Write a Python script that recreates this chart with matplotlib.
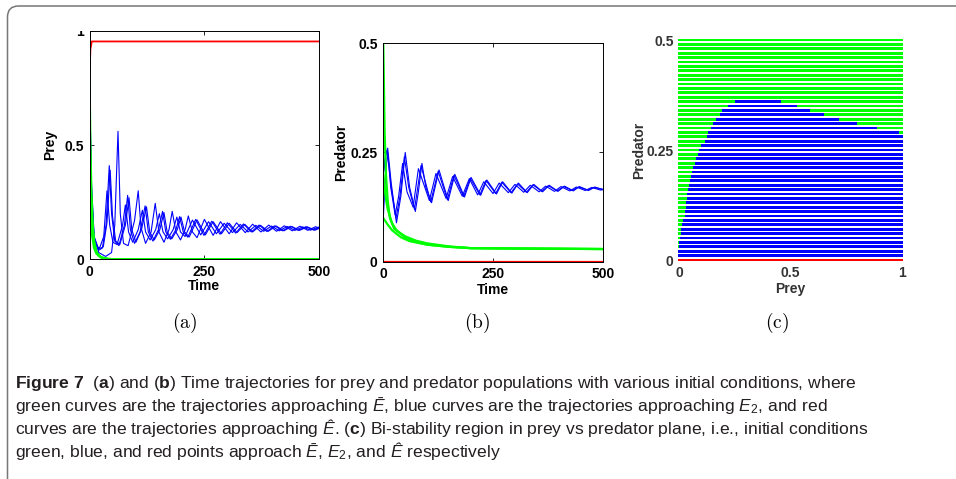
import numpy as np
import matplotlib
matplotlib.use("Agg")
import matplotlib.pyplot as plt
from matplotlib.patches import FancyBboxPatch, Rectangle

# ---- time series (t, value) read per trajectory ----
prey_blue1 = np.array([(0, 0.80), (4, 0.35), (10, 0.10), (20, 0.03), (35, 0.013), (48, 0.03), (55, 0.15),
                       (62, 0.56), (67, 0.20), (74, 0.07), (84, 0.06), (98, 0.17), (106, 0.30), (112, 0.14),
                       (122, 0.07), (134, 0.12), (143, 0.245), (151, 0.12), (162, 0.075), (173, 0.13),
                       (180, 0.21), (188, 0.12), (198, 0.085), (208, 0.13), (215, 0.19), (224, 0.12),
                       (234, 0.095), (250, 0.175), (269, 0.105), (285, 0.165), (304, 0.112), (320, 0.16),
                       (339, 0.117), (355, 0.154), (373, 0.12), (390, 0.15), (407, 0.123), (424, 0.147),
                       (441, 0.125), (458, 0.145), (475, 0.127), (492, 0.143), (500, 0.136)])
prey_blue2 = np.array([(0, 0.75), (4, 0.30), (10, 0.09), (20, 0.04), (28, 0.05), (36, 0.15), (43, 0.41),
                       (48, 0.20), (55, 0.08), (64, 0.06), (76, 0.15), (83, 0.28), (89, 0.13), (98, 0.07),
                       (110, 0.12), (121, 0.234), (128, 0.12), (138, 0.08), (150, 0.13), (159, 0.21),
                       (166, 0.12), (176, 0.088), (188, 0.13), (196, 0.187), (204, 0.12), (214, 0.097),
                       (231, 0.175), (249, 0.105), (266, 0.167), (284, 0.11), (300, 0.16), (318, 0.115),
                       (335, 0.155), (352, 0.12), (369, 0.15), (386, 0.122), (403, 0.147), (420, 0.125),
                       (437, 0.145), (454, 0.127), (471, 0.143), (488, 0.128), (500, 0.14)])
prey_blue3 = np.array([(0, 0.40), (5, 0.15), (12, 0.06), (22, 0.05), (31, 0.10), (38, 0.30), (44, 0.15),
                       (51, 0.075), (60, 0.065), (72, 0.15), (78, 0.238), (85, 0.12), (94, 0.075),
                       (106, 0.13), (115, 0.215), (122, 0.12), (132, 0.085), (144, 0.13), (152, 0.20),
                       (160, 0.12), (170, 0.09), (182, 0.13), (190, 0.185), (198, 0.12), (208, 0.10),
                       (224, 0.172), (242, 0.107), (259, 0.165), (276, 0.112), (293, 0.158), (311, 0.117),
                       (328, 0.153), (345, 0.12), (362, 0.149), (379, 0.123), (396, 0.146), (413, 0.125),
                       (430, 0.144), (447, 0.127), (464, 0.142), (481, 0.128), (498, 0.141), (500, 0.14)])
prey_blue4 = np.array([(0, 0.80), (4, 0.32), (10, 0.10), (20, 0.045), (30, 0.055), (38, 0.16), (45, 0.39),
                       (50, 0.19), (57, 0.08), (66, 0.065), (78, 0.15), (86, 0.27), (92, 0.13), (101, 0.075),
                       (113, 0.13), (124, 0.23), (131, 0.12), (141, 0.085), (153, 0.13), (162, 0.205),
                       (169, 0.12), (179, 0.09), (191, 0.13), (199, 0.185), (207, 0.12), (217, 0.098),
                       (234, 0.173), (252, 0.107), (269, 0.165), (287, 0.112), (304, 0.158), (321, 0.117),
                       (338, 0.153), (355, 0.12), (372, 0.149), (389, 0.123), (406, 0.146), (423, 0.125),
                       (440, 0.144), (457, 0.127), (474, 0.142), (491, 0.128), (500, 0.136)])
prey_green1 = np.array([(0, 0.80), (2, 0.50), (4, 0.30), (7, 0.15), (10, 0.08), (15, 0.035), (20, 0.015),
                        (30, 0.005), (40, 0.002), (60, 0.0), (500, 0.0)])
prey_green2 = np.array([(0, 0.60), (3, 0.30), (6, 0.15), (10, 0.07), (15, 0.03), (25, 0.01), (40, 0.002),
                        (60, 0.0), (500, 0.0)])
prey_green3 = np.array([(0, 0.40), (3, 0.20), (6, 0.10), (10, 0.05), (15, 0.025), (25, 0.008), (40, 0.002),
                        (60, 0.0), (500, 0.0)])
prey_red = np.array([(0, 0.80), (2, 0.92), (5, 0.953), (500, 0.953)])

pred_blue1 = np.array([(0, 0.20), (5, 0.245), (10, 0.26), (18, 0.18), (30, 0.089), (40, 0.15), (50, 0.25),
                       (60, 0.17), (73, 0.115), (80, 0.16), (88, 0.225), (97, 0.17), (110, 0.135), (127, 0.21),
                       (148, 0.14), (163, 0.20), (185, 0.148), (200, 0.193), (222, 0.152), (236, 0.187),
                       (258, 0.155), (272, 0.183), (293, 0.157), (308, 0.18), (328, 0.158), (343, 0.177),
                       (363, 0.16), (378, 0.175), (398, 0.161), (413, 0.173), (433, 0.162), (447, 0.172),
                       (468, 0.163), (482, 0.171), (500, 0.165)])
pred_blue2 = np.array([(0, 0.10), (5, 0.20), (10, 0.25), (17, 0.17), (27, 0.107), (35, 0.15), (44, 0.225),
                       (54, 0.16), (68, 0.125), (80, 0.213), (105, 0.14), (120, 0.202), (143, 0.145),
                       (158, 0.195), (180, 0.15), (196, 0.19), (215, 0.153), (229, 0.183), (250, 0.156),
                       (264, 0.18), (285, 0.158), (300, 0.177), (320, 0.159), (335, 0.175), (355, 0.16),
                       (370, 0.173), (390, 0.161), (405, 0.172), (425, 0.162), (440, 0.171), (460, 0.163),
                       (475, 0.17), (495, 0.164), (500, 0.165)])
pred_blue3 = np.array([(0, 0.20), (5, 0.24), (9, 0.255), (18, 0.17), (29, 0.10), (38, 0.15), (48, 0.24),
                       (58, 0.17), (71, 0.12), (86, 0.22), (108, 0.137), (125, 0.207), (146, 0.142),
                       (161, 0.198), (183, 0.149), (198, 0.191), (220, 0.153), (234, 0.186), (256, 0.156),
                       (270, 0.182), (291, 0.158), (306, 0.178), (326, 0.159), (341, 0.176), (361, 0.161),
                       (376, 0.174), (396, 0.162), (411, 0.172), (431, 0.163), (445, 0.171), (466, 0.164),
                       (480, 0.17), (500, 0.166)])
pred_green1 = np.array([(0, 0.50), (3, 0.30), (6, 0.20), (10, 0.14), (15, 0.10), (25, 0.075), (50, 0.058),
                        (75, 0.048), (100, 0.042), (150, 0.035), (200, 0.031), (300, 0.03), (500, 0.029)])
pred_green2 = np.array([(0, 0.20), (5, 0.15), (10, 0.12), (20, 0.088), (30, 0.072), (50, 0.055), (75, 0.045),
                        (100, 0.039), (150, 0.034), (200, 0.031), (500, 0.029)])
pred_green3 = np.array([(0, 0.10), (10, 0.085), (20, 0.072), (40, 0.056), (60, 0.047), (100, 0.039),
                        (150, 0.034), (200, 0.031), (500, 0.029)])
pred_red = np.array([(0, 0.0), (500, 0.0)])

# ---- bi-stability grid: rows of initial predator values ----
grid_pred = np.round(np.arange(0, 0.501, 0.01), 2)
grid_prey = np.linspace(0, 1, 201)
# blue span per row, predator = 0.01 .. 0.36
blue_left = [0.0, 0.0, 0.002, 0.003, 0.006, 0.013, 0.014, 0.018, 0.022, 0.026, 0.027, 0.032,
             0.035, 0.036, 0.040, 0.044, 0.048, 0.053, 0.058, 0.062, 0.066, 0.071, 0.077, 0.086,
             0.093, 0.104, 0.116, 0.126, 0.135, 0.146, 0.156, 0.168, 0.186, 0.198, 0.225, 0.255]
blue_right = [1.0] * 28 + [0.99, 0.89, 0.80, 0.72, 0.652, 0.592, 0.532, 0.463]

BLUE = "#0000ff"
GREEN = "#00ff00"
RED = "#ff0000"

cap_font = "Liberation Sans"

plt.rcParams["font.family"] = ["Liberation Sans", "DejaVu Sans"]
plt.rcParams["mathtext.fontset"] = "custom"
plt.rcParams["mathtext.rm"] = cap_font
plt.rcParams["mathtext.it"] = cap_font + ":italic"
plt.rcParams["mathtext.bf"] = cap_font + ":bold"

W, H = 956, 479
fig = plt.figure(figsize=(W / 100, H / 100), dpi=100)


def axes_px(left, top, right, bottom):
    return fig.add_axes([left / W, 1 - bottom / H, (right - left) / W, (bottom - top) / H])


def style(ax):
    ax.tick_params(direction="in", length=3, width=0.6, top=True, right=True, labelsize=10, pad=4)
    for lab in ax.get_xticklabels() + ax.get_yticklabels():
        lab.set_fontweight("bold")
    for s in ax.spines.values():
        s.set_linewidth(0.7)


# background layer in pixel coordinates: frame, sub-captions, caption
bg = fig.add_axes([0, 0, 1, 1], zorder=-5)
bg.set_xlim(0, W)
bg.set_ylim(H, 0)
bg.axis("off")
bg.add_patch(FancyBboxPatch((7.5, 6), 1000, 520, boxstyle="round,pad=0,rounding_size=11",
                            fc="none", ec="#777777", lw=1.1))

# (a) prey
ax1 = axes_px(89.5, 30.7, 319.3, 259.4)
for c in (prey_blue1, prey_blue2, prey_blue3, prey_blue4):
    ax1.plot(c[:, 0], c[:, 1], color=BLUE, lw=0.8)
for c in (prey_green1, prey_green2, prey_green3):
    ax1.plot(c[:, 0], c[:, 1], color=GREEN, lw=1.6)
ax1.plot(prey_red[:, 0], prey_red[:, 1], color=RED, lw=1.3)
ax1.set_xlim(0, 500)
ax1.set_ylim(0, 1)
ax1.set_xticks([0, 250, 500])
ax1.set_yticks([0, 0.5, 1])
ax1.set_yticklabels(["0", "0.5", "1"])
ax1.set_xlabel("Time", fontsize=10, fontweight="bold", labelpad=0)
ax1.set_ylabel("Prey", fontsize=10, fontweight="bold", labelpad=5)
style(ax1)

# (b) predator
ax2 = axes_px(383.3, 43.3, 602.7, 261.7)
for c in (pred_blue1, pred_blue2, pred_blue3):
    ax2.plot(c[:, 0], c[:, 1], color=BLUE, lw=0.8)
for c in (pred_green1, pred_green2, pred_green3):
    ax2.plot(c[:, 0], c[:, 1], color=GREEN, lw=1.6)
ax2.plot(pred_red[:, 0], pred_red[:, 1], color=RED, lw=1.6)
ax2.set_xlim(0, 500)
ax2.set_ylim(0, 0.5)
ax2.set_xticks([0, 250, 500])
ax2.set_yticks([0, 0.25, 0.5])
ax2.set_yticklabels(["0", "0.25", "0.5"])
ax2.set_xlabel("Time", fontsize=10, fontweight="bold", labelpad=1)
ax2.set_ylabel("Predator", fontsize=10, fontweight="bold", labelpad=2)
style(ax2)

# (c) bi-stability region
ax3 = axes_px(679.3, 40, 901.7, 260)
for i, yv in enumerate(grid_pred):
    if i == 0:
        cols = [RED] * len(grid_prey)
    elif i <= len(blue_left):
        lo, hi = blue_left[i - 1], blue_right[i - 1]
        cols = [BLUE if lo <= xv <= hi else GREEN for xv in grid_prey]
    else:
        cols = [GREEN] * len(grid_prey)
    ax3.scatter(grid_prey, np.full(len(grid_prey), yv), c=cols, s=4, marker="s", linewidths=0,
                clip_on=False)
ax3.set_xlim(0, 1)
ax3.set_ylim(0, 0.5)
ax3.set_xticks([0, 0.5, 1])
ax3.set_xticklabels(["0", "0.5", "1"])
ax3.set_yticks([0, 0.25, 0.5])
ax3.set_yticklabels(["0", "0.25", "0.5"])
ax3.set_xlabel("Prey", fontsize=10, fontweight="bold", labelpad=2, color="#333333")
ax3.set_ylabel("Predator", fontsize=10, fontweight="bold", labelpad=0, color="#333333")
ax3.tick_params(length=0, labelsize=10, pad=4, colors="#333333")
for lab in ax3.get_xticklabels() + ax3.get_yticklabels():
    lab.set_fontweight("bold")
for s in ax3.spines.values():
    s.set_visible(False)

# clip the top of panel (a)
top = fig.add_axes([0, 0, 1, 1], zorder=10)
top.set_xlim(0, W)
top.set_ylim(H, 0)
top.axis("off")
top.patch.set_alpha(0)
top.add_patch(Rectangle((40, 8), 48, 22.5, fc="white", ec="none"))

for x, s in ((185, "a"), (477, "b"), (777, "c")):
    bg.text(x, 323, r"$\mathrm{(%s)}$" % s, fontsize=14, ha="center", va="center",
            math_fontfamily="cm")

E_BAR = r"$\mathit{Ē}$"
E_HAT = r"$\mathit{Ê}$"
E_TWO = r"$\mathit{E}_{2}$"
cap_lines = [
    r"$\mathbf{Figure\ 7}$  ($\mathbf{a}$) and ($\mathbf{b}$) Time trajectories for prey and predator "
    r"populations with various initial conditions, where",
    "green curves are the trajectories approaching " + E_BAR + ", blue curves are the trajectories "
    "approaching " + E_TWO + ", and red",
    "curves are the trajectories approaching " + E_HAT + r". ($\mathbf{c}$) Bi-stability region in prey vs "
    "predator plane, i.e., initial conditions",
    "green, blue, and red points approach " + E_BAR + ", " + E_TWO + ", and " + E_HAT + " respectively",
]
cap_texts = [bg.text(15, 388 + 23 * k, line, fontsize=12, family=cap_font, color="#231f20",
                     ha="left", va="baseline") for k, line in enumerate(cap_lines)]

# size the caption: first line runs to the right margin, lines must not touch
renderer = fig.canvas.get_renderer()
size = 12 * (943 - 15) / cap_texts[0].get_window_extent(renderer).width
while True:
    for t in cap_texts:
        t.set_fontsize(size)
    boxes = [t.get_window_extent(renderer) for t in cap_texts]
    if all(boxes[k].y0 > boxes[k + 1].y1 + 0.5 for k in range(3)) or size < 9:
        break
    size *= 0.99

fig.savefig("out.png", dpi=100)
